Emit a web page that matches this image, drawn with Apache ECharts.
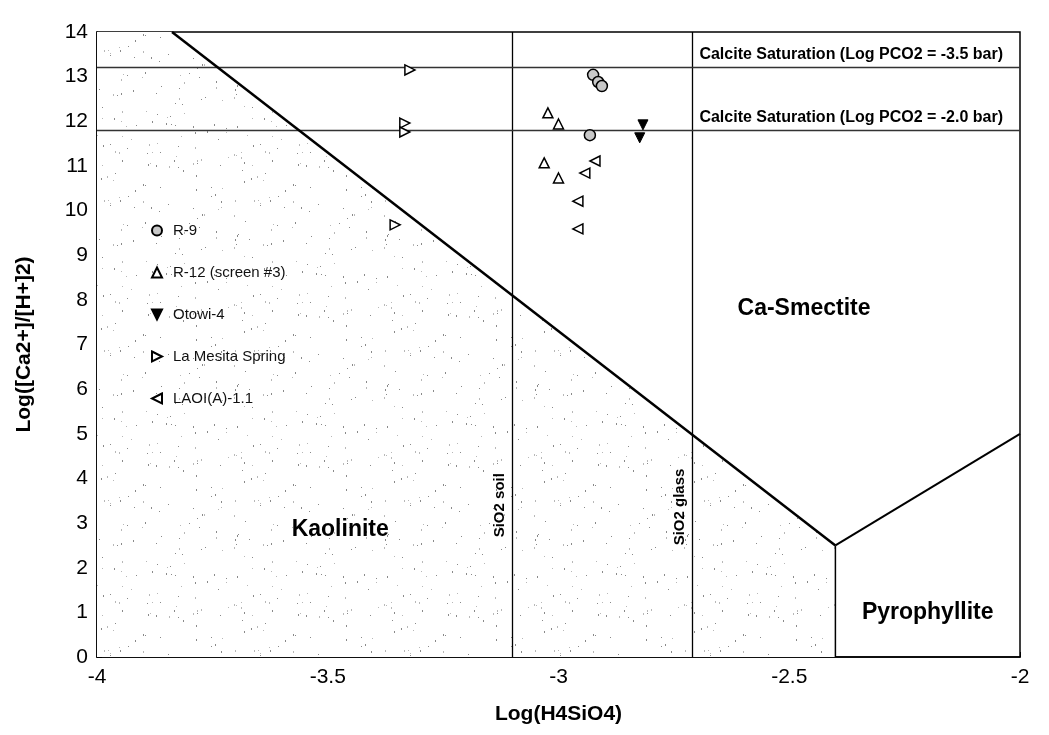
<!DOCTYPE html>
<html lang="en">
<head>
    <meta charset="UTF-8">
    <title>Ca-Smectite stability diagram</title>
    <script src="https://cdn.jsdelivr.net/npm/echarts@6/dist/echarts.min.js"></script>
    <style>
        body { margin: 0; background: #fff; }
        #chart { width: 1049px; height: 735px; }
    </style>
</head>
<body>
    <div id="chart"></div>
    <script>
        // sample points [log H4SiO4, log(Ca/H2)]
        const r9 = [[-2.925, 13.04], [-2.914, 12.88], [-2.906, 12.79], [-2.932, 11.69]]
        const r12 = [[-3.023, 12.19], [-3.0, 11.94], [-3.031, 11.07], [-3.0, 10.73]]
        const otowi = [[-2.817, 11.92], [-2.824, 11.63]]
        const laMesita = [[-3.322, 13.15], [-3.333, 11.96], [-3.333, 11.76], [-3.354, 9.68]]
        const laoi = [[-2.921, 11.11], [-2.943, 10.84], [-2.958, 10.21], [-2.958, 9.59]]

        // phase boundaries
        const kaolBoundary = [[-3.8375, 14], [-2.4, 2.5]]
        const pyroBoundary = [[-2.4, 2.5], [-2, 5.0]]
        const pyroVertical = [[-2.4, 2.5], [-2.4, 0]]
        const kaolArea = [[-4, 14], [-3.8375, 14], [-2.4, 2.5]]
        const silicaLines = [-3.1, -2.71]
        const calciteLevels = [13.2, 11.8]
        const calciteLabels = ['Calcite Saturation (Log PCO2 = -3.5 bar)', 'Calcite Saturation (Log PCO2 = -2.0 bar)']

        const fieldLabels = [[-3.473, 2.85, 'Kaolinite'], [-2.468, 7.8, 'Ca-Smectite'], [-2.2, 1.0, 'Pyrophyllite']]
        const silicaLabels = [[-3.128, 3.4, 'SiO2 soil'], [-2.737, 3.36, 'SiO2 glass']]

        const font = '"Liberation Sans", Arial, sans-serif'

        const triUp = 'path://M5,0 L10,10 L0,10 Z'
        const triDown = 'path://M0,0 L10,0 L5,10 Z'
        const triRight = 'path://M0,0 L10,5 L0,10 Z'
        const triLeft = 'path://M10,0 L0,5 L10,10 Z'

        // stipple texture for the kaolinite field
        const makeStipple = () => {
            const c = document.createElement('canvas')
            c.width = 150
            c.height = 150
            const ctx = c.getContext('2d')
            ctx.fillStyle = '#ffffff'
            ctx.fillRect(0, 0, 150, 150)
            let s = 11
            const next = () => { s = (s * 9301 + 49297) % 233280; return s / 233280 }
            for (let i = 0; i < 130; i++) {
                const x = Math.floor(next() * 150)
                const y = Math.floor(next() * 150)
                ctx.fillStyle = next() > 0.5 ? '#8a8a8a' : '#b8b8b8'
                ctx.fillRect(x, y, 1, next() > 0.6 ? 2 : 1)
            }
            return c
        }

        const chart = echarts.init(document.getElementById('chart'))

        const openStyle = { color: '#fff', borderColor: '#000', borderWidth: 1.5, opacity: 1 }
        const pointSeries = (name, data, symbol, style, size) => ({
            name: name,
            type: 'scatter',
            data: data,
            symbol: symbol,
            symbolSize: size,
            itemStyle: style,
            z: 10
        })

        const labelSeries = (name, data, size, rotate) => ({
            name: name,
            type: 'scatter',
            symbolSize: 0,
            data: data,
            silent: true,
            z: 8,
            itemStyle: { opacity: 1 },
            label: {
                show: true,
                position: 'inside',
                rotate: rotate,
                formatter: p => p.data[2],
                fontSize: size,
                fontWeight: 'bold',
                color: '#000'
            }
        })

        const option = {
            animation: false,
            backgroundColor: '#fff',
            textStyle: { fontFamily: font },
            grid: { left: 97, right: 29, top: 32, bottom: 78, show: true, borderColor: '#000', borderWidth: 1.5 },
            legend: {
                orient: 'vertical',
                left: 146,
                top: 217,
                itemGap: 25,
                itemWidth: 10,
                itemHeight: 10,
                textStyle: { fontSize: 15, color: '#111', fontFamily: font, padding: [0, 0, 0, 6], lineHeight: 17 },
                data: ['R-9', 'R-12 (screen #3)', 'Otowi-4', 'La Mesita Spring', 'LAOI(A)-1.1']
            },
            xAxis: {
                type: 'value',
                min: -4,
                max: -2,
                interval: 0.5,
                name: 'Log(H4SiO4)',
                nameLocation: 'middle',
                nameGap: 47,
                nameTextStyle: { fontSize: 21, fontWeight: 'bold', color: '#000' },
                axisLine: { lineStyle: { color: '#000', width: 1.5 } },
                axisTick: { inside: true, length: 5, lineStyle: { color: '#000' } },
                axisLabel: { fontSize: 21, color: '#000', margin: 10 },
                splitLine: { show: false }
            },
            yAxis: {
                type: 'value',
                min: 0,
                max: 14,
                interval: 1,
                name: 'Log([Ca2+]/[H+]2)',
                nameLocation: 'middle',
                nameGap: 62,
                nameTextStyle: { fontSize: 21, fontWeight: 'bold', color: '#000' },
                axisLine: { lineStyle: { color: '#000', width: 1.5 } },
                axisTick: { inside: true, length: 5, lineStyle: { color: '#000' } },
                axisLabel: { fontSize: 21, color: '#000', margin: 9 },
                splitLine: { show: false }
            },
            series: [
                {
                    name: 'kaolinite field',
                    type: 'line',
                    data: kaolArea,
                    symbol: 'none',
                    lineStyle: { width: 0 },
                    areaStyle: { color: { image: makeStipple(), repeat: 'repeat' }, opacity: 1 },
                    z: 1
                },
                {
                    name: 'bKaol',
                    type: 'line',
                    data: kaolBoundary,
                    symbol: 'none',
                    lineStyle: { color: '#000', width: 2.5 },
                    z: 5
                },
                {
                    name: 'bPyro',
                    type: 'line',
                    data: pyroBoundary,
                    symbol: 'none',
                    lineStyle: { color: '#000', width: 2 },
                    z: 5
                },
                {
                    name: 'bPyroV',
                    type: 'line',
                    data: pyroVertical,
                    symbol: 'none',
                    lineStyle: { color: '#000', width: 1.5 },
                    z: 5
                },
                {
                    name: 'refLines',
                    type: 'line',
                    data: [],
                    z: 4,
                    markLine: {
                        silent: true,
                        symbol: 'none',
                        animation: false,
                        lineStyle: { color: '#000', width: 1.3, type: 'solid' },
                        data: silicaLines.map(v => ({ xAxis: v, label: { show: false } }))
                            .concat(calciteLevels.map((v, i) => ({
                                yAxis: v,
                                lineStyle: { color: '#333', width: 1.3 },
                                label: {
                                    show: true,
                                    position: 'insideEndTop',
                                    formatter: calciteLabels[i],
                                    fontSize: 16,
                                    fontWeight: 'bold',
                                    color: '#000',
                                    distance: [17, 5]
                                }
                            })))
                    }
                },
                labelSeries('fields', fieldLabels, 23, 0),
                labelSeries('silica', silicaLabels, 15, 90),
                pointSeries('R-9', r9, 'circle', { color: '#c8c8c8', borderColor: '#000', borderWidth: 1.5, opacity: 1 }, 11),
                pointSeries('R-12 (screen #3)', r12, triUp, openStyle, 10),
                pointSeries('Otowi-4', otowi, triDown, { color: '#000', borderColor: '#000', borderWidth: 1, opacity: 1 }, 10),
                pointSeries('La Mesita Spring', laMesita, triRight, openStyle, 10),
                pointSeries('LAOI(A)-1.1', laoi, triLeft, openStyle, 10)
            ]
        }

        chart.setOption(option)
    </script>
</body>
</html>
